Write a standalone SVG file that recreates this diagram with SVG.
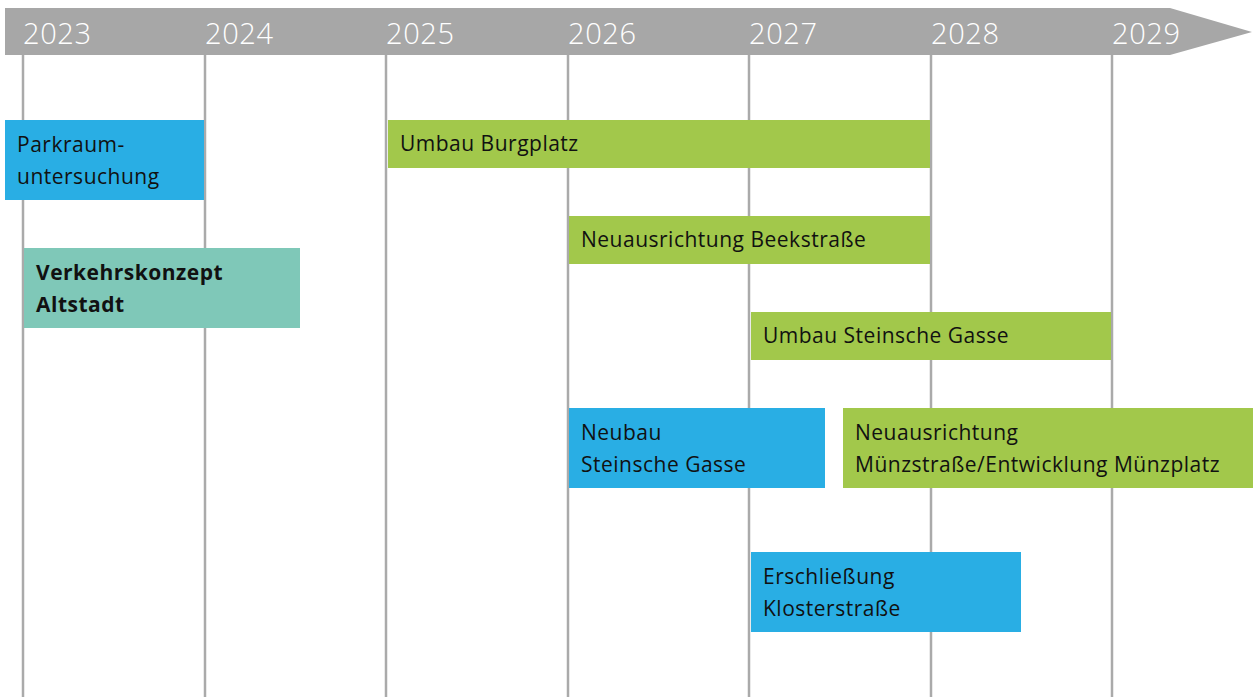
<svg xmlns="http://www.w3.org/2000/svg" width="1258" height="697" viewBox="0 0 1258 697">
<style>
.grid{stroke:#aaaaaa;stroke-width:2.5}
.yr{font-family:"Open Sans","Noto Sans",sans-serif;font-size:29px;fill:#ffffff;font-weight:300;letter-spacing:0.6px}
.t{font-family:"Open Sans","Noto Sans",sans-serif;font-size:21px;fill:#111111;letter-spacing:0.5px}
.b{font-weight:bold}
.blue{fill:#29aee4}
.green{fill:#a2c84b}
.teal{fill:#7fc8b8}
</style>
<rect width="1258" height="697" fill="#ffffff"/>
<g id="timeline">
<path d="M5 8 H1170 L1252 32 L1170 55 H5 Z" fill="#a7a7a7"/>
<g class="grid">
<line x1="23" y1="55" x2="23" y2="697"/>
<line x1="205" y1="55" x2="205" y2="697"/>
<line x1="386" y1="55" x2="386" y2="697"/>
<line x1="568" y1="55" x2="568" y2="697"/>
<line x1="749" y1="55" x2="749" y2="697"/>
<line x1="931" y1="55" x2="931" y2="697"/>
<line x1="1112" y1="55" x2="1112" y2="697"/>
</g>
<text class="yr" x="23" y="44">2023</text>
<text class="yr" x="205" y="44">2024</text>
<text class="yr" x="386" y="44">2025</text>
<text class="yr" x="568" y="44">2026</text>
<text class="yr" x="749" y="44">2027</text>
<text class="yr" x="931" y="44">2028</text>
<text class="yr" x="1112" y="44">2029</text>
</g>
<g id="parkraum">
<rect class="blue" x="5" y="120" width="199" height="80"/>
<text class="t" x="17" y="152">Parkraum-</text>
<text class="t" x="17" y="184">untersuchung</text>
</g>
<g id="verkehrskonzept">
<rect class="teal" x="24" y="248" width="276" height="80"/>
<text class="t b" x="36" y="280">Verkehrskonzept</text>
<text class="t b" x="36" y="312">Altstadt</text>
</g>
<g id="burgplatz">
<rect class="green" x="388" y="120" width="542" height="48"/>
<text class="t" x="400" y="151">Umbau Burgplatz</text>
</g>
<g id="beekstrasse">
<rect class="green" x="569" y="216" width="361" height="48"/>
<text class="t" x="581" y="247">Neuausrichtung Beekstraße</text>
</g>
<g id="steinsche-umbau">
<rect class="green" x="751" y="312" width="360" height="48"/>
<text class="t" x="763" y="343">Umbau Steinsche Gasse</text>
</g>
<g id="steinsche-neubau">
<rect class="blue" x="569" y="408" width="256" height="80"/>
<text class="t" x="581" y="440">Neubau</text>
<text class="t" x="581" y="472">Steinsche Gasse</text>
</g>
<g id="muenzstrasse">
<rect class="green" x="843" y="408" width="410" height="80"/>
<text class="t" x="855" y="440">Neuausrichtung</text>
<text class="t" x="855" y="472">Münzstraße/Entwicklung Münzplatz</text>
</g>
<g id="klosterstrasse">
<rect class="blue" x="751" y="552" width="270" height="80"/>
<text class="t" x="763" y="584">Erschließung</text>
<text class="t" x="763" y="616">Klosterstraße</text>
</g>
<g id="connectors"/>
</svg>
